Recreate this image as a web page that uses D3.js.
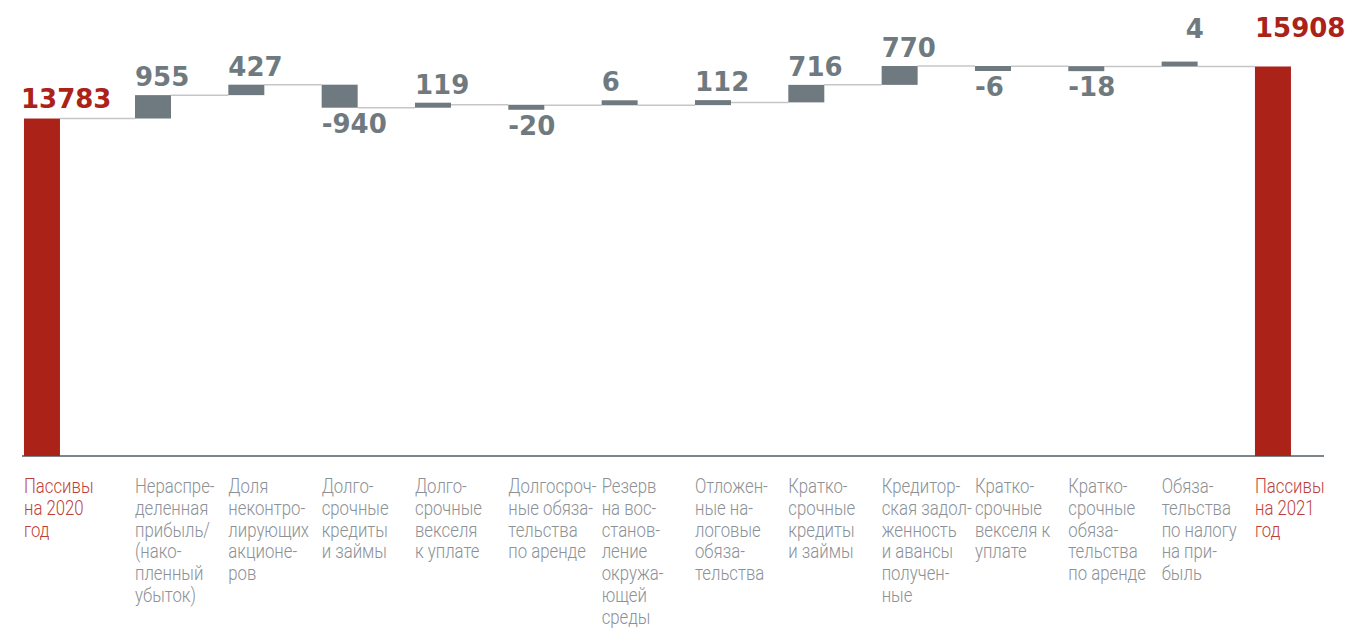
<!DOCTYPE html>
<html>
<head>
<meta charset="utf-8">
<script src="https://cdn.jsdelivr.net/npm/d3@7"></script>
<style>
  html, body { margin: 0; padding: 0; background: #fff; }
  svg { display: block; }
</style>
</head>
<body>
<svg id="chart" width="1354" height="628"></svg>
<script>
// ---------- data ----------
const categories = [
  "Пассивы на 2020 год",
  "Нераспределенная прибыль/(накопленный убыток)",
  "Доля неконтролирующих акционеров",
  "Долгосрочные кредиты и займы",
  "Долгосрочные векселя к уплате",
  "Долгосрочные обязательства по аренде",
  "Резерв на восстановление окружающей среды",
  "Отложенные налоговые обязательства",
  "Краткосрочные кредиты и займы",
  "Кредиторская задолженность и авансы полученные",
  "Краткосрочные векселя к уплате",
  "Краткосрочные обязательства по аренде",
  "Обязательства по налогу на прибыль",
  "Пассивы на 2021 год"
];
const labelLines = [
  ["Пассивы", "на 2020", "год"],
  ["Нераспре-", "деленная", "прибыль/", "(нако-", "пленный", "убыток)"],
  ["Доля", "неконтро-", "лирующих", "акционе-", "ров"],
  ["Долго-", "срочные", "кредиты", "и займы"],
  ["Долго-", "срочные", "векселя", "к уплате"],
  ["Долгосроч-", "ные обяза-", "тельства", "по аренде"],
  ["Резерв", "на вос-", "станов-", "ление", "окружа-", "ющей", "среды"],
  ["Отложен-", "ные на-", "логовые", "обяза-", "тельства"],
  ["Кратко-", "срочные", "кредиты", "и займы"],
  ["Кредитор-", "ская задол-", "женность", "и авансы", "получен-", "ные"],
  ["Кратко-", "срочные", "векселя к", "уплате"],
  ["Кратко-", "срочные", "обяза-", "тельства", "по аренде"],
  ["Обяза-", "тельства", "по налогу", "на при-", "быль"],
  ["Пассивы", "на 2021", "год"]
];
const values = [13783, 955, 427, -940, 119, -20, 6, 112, 716, 770, -6, -18, 4, 15908];
const isTotal = [true, false, false, false, false, false, false, false, false, false, false, false, false, true];

// ---------- layout ----------
const W = 1354, H = 628;
const baseY = 456, topY = 66;
const barW = 36;
const minBarH = 5;
const firstShift = -17.7;           // the first column sits a bit closer to the left edge
const labelLift = {12: 15, 13: 18};  // value labels raised at the right end
const labelDx = {12: 24};

const colors = {
  total: "#ab2219",
  delta: "#6f7a80",
  totalText: "#ab2219",
  deltaText: "#6f7a80",
  catText: "#8b9196",
  catTotalText: "#bd3f3a",
  connector: "#c6c6c6",
  axis: "#7d858a"
};

// ---------- compute waterfall ----------
let running = 0;
const rows = values.map((v, i) => {
  let start, end;
  if (isTotal[i]) { start = 0; end = v; running = v; }
  else { start = running; end = running + v; running = end; }
  return { i, cat: categories[i], v, start, end, total: isTotal[i], lines: labelLines[i] };
});

// ---------- scales ----------
const step = 93.33;
const x = d3.scaleBand()
  .domain(categories)
  .range([41.67, 41.67 + step * (categories.length - 1) + barW])
  .paddingInner(1 - barW / step)
  .paddingOuter(0);
const bx = (d) => x(d.cat) + (d.i === 0 ? firstShift : 0);

const yMax = d3.max(rows, d => Math.max(d.start, d.end));
const y = d3.scaleLinear().domain([0, yMax]).range([baseY, topY]);

const svg = d3.select("#chart");

// bar geometry with minimum visible height
function geom(d) {
  if (d.total) return { top: y(d.end), bottom: y(0) };
  const ys = y(d.start), ye = y(d.end);
  if (d.v >= 0) return { top: Math.min(ye, ys - minBarH), bottom: ys };
  return { top: ys, bottom: Math.max(ye, ys + minBarH) };
}

// connectors
const conn = rows.slice(0, -1).map((d, k) => ({ from: d, to: rows[k + 1] }));
svg.append("g").selectAll("line").data(conn).join("line")
  .attr("x1", c => bx(c.from) + x.bandwidth())
  .attr("x2", c => bx(c.to))
  .attr("y1", c => y(c.from.end))
  .attr("y2", c => y(c.from.end))
  .attr("stroke", colors.connector)
  .attr("stroke-width", 1.5);

// axis baseline
svg.append("line")
  .attr("x1", 22).attr("x2", 1324)
  .attr("y1", y(0)).attr("y2", y(0))
  .attr("stroke", colors.axis).attr("stroke-width", 2);

// bars
svg.append("g").selectAll("rect").data(rows).join("rect")
  .attr("x", d => bx(d))
  .attr("width", x.bandwidth())
  .attr("y", d => geom(d).top)
  .attr("height", d => geom(d).bottom - geom(d).top)
  .attr("fill", d => d.total ? colors.total : colors.delta);

// value labels
svg.append("g").selectAll("text").data(rows).join("text")
  .attr("x", d => bx(d) + (d.i === 0 ? -3 : 0) + (labelDx[d.i] || 0))
  .attr("y", d => {
    const g = geom(d);
    let yy;
    if (d.total) yy = g.top - 11;
    else if (d.v >= 0) yy = g.top - 9;
    else yy = g.bottom + 25;
    return yy - (labelLift[d.i] || 0);
  })
  .attr("font-family", "'DejaVu Sans', sans-serif")
  .attr("font-weight", "bold")
  .attr("font-size", 26)
  .attr("fill", d => d.total ? colors.totalText : colors.deltaText)
  .text(d => d.v < 0 ? "-" + Math.abs(d.v) : String(d.v));

// category labels
const cg = svg.append("g").selectAll("g").data(rows).join("g")
  .attr("transform", d => `translate(${bx(d)},493) scale(0.86,1)`);
cg.append("text")
  .attr("font-family", "Roboto, sans-serif")
  .attr("font-weight", 300)
  .attr("font-size", 19.5)
  .attr("fill", d => d.total ? colors.catTotalText : colors.catText)
  .selectAll("tspan").data(d => d.lines).join("tspan")
  .attr("x", 0)
  .attr("dy", (t, j) => j === 0 ? 0 : 21.8)
  .text(t => t);
</script>
</body>
</html>
